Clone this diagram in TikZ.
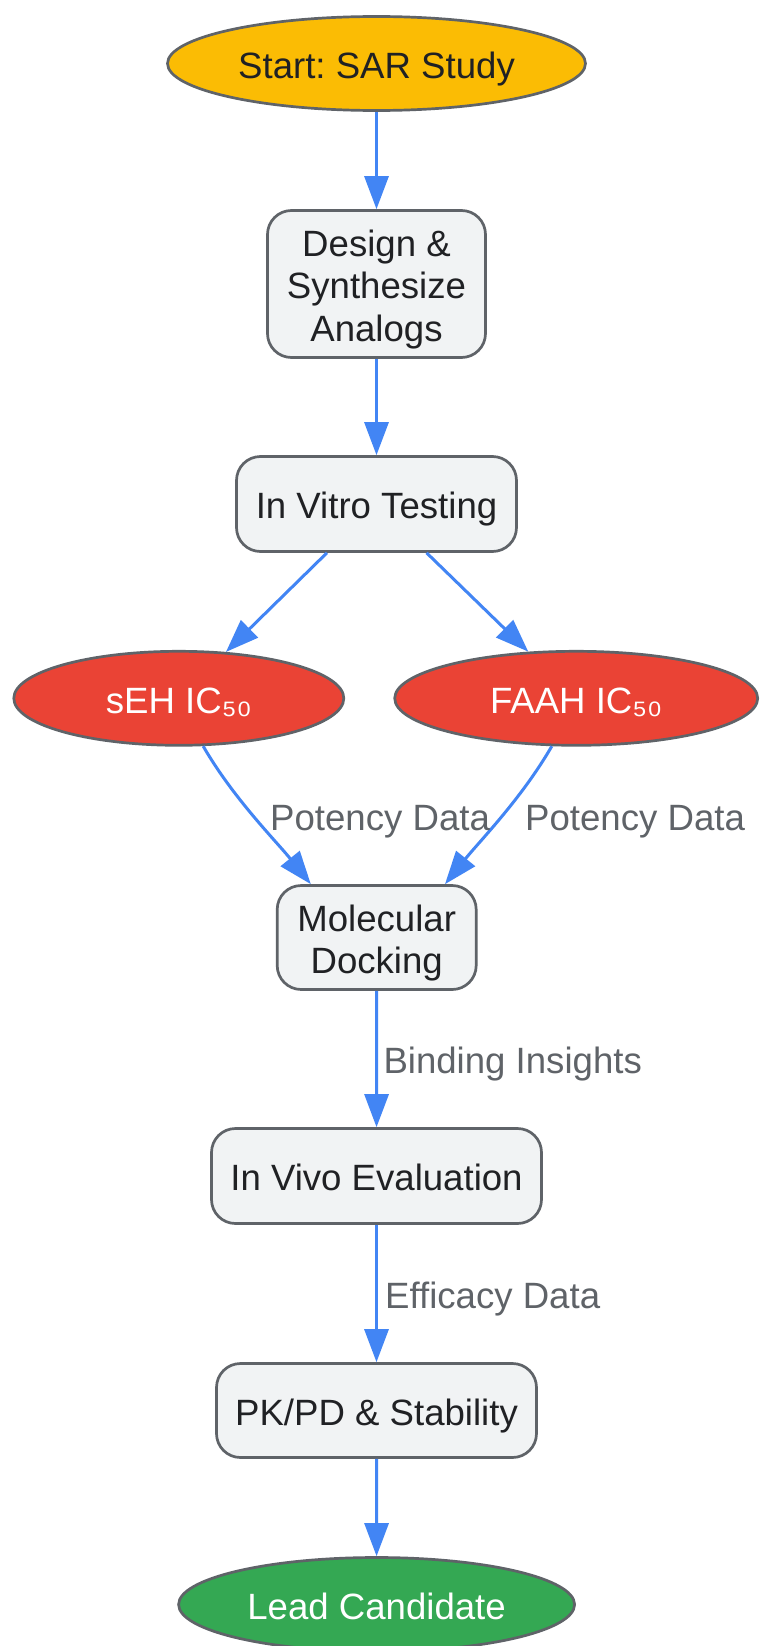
\documentclass[tikz,border=0pt]{standalone}
\usepackage{fontspec}
\setmainfont{Liberation Sans}
\frenchspacing
\usetikzlibrary{shapes.geometric,arrows.meta}
\definecolor{yel}{HTML}{FBBC04}
\definecolor{redf}{HTML}{EA4335}
\definecolor{grn}{HTML}{34A853}
\definecolor{blu}{HTML}{4285F4}
\definecolor{boxf}{HTML}{F1F3F4}
\definecolor{bord}{HTML}{5F6368}
\definecolor{txt}{HTML}{202124}
\definecolor{lbl}{HTML}{5F6368}
\newcommand\sL{\rule[-7.7pt]{0pt}{45.3pt}}
\newcommand\nodefont{\fontsize{36.6}{42.3}\selectfont\setlength{\lineskiplimit}{-100pt}\relax}
\begin{document}
\begin{tikzpicture}[x=1pt,y=-1pt,
  base/.style={draw=bord, line width=2.7pt, inner sep=0pt, align=center,
    font=\nodefont},
  stepbox/.style={base, rectangle, rounded corners=24pt, fill=boxf, text=txt},
  oval/.style={base, ellipse},
  arr/.style={draw=blu, line width=3pt, -{Triangle[length=33pt,width=24pt]}},
  lab/.style={text=lbl, font=\nodefont, inner sep=0pt, anchor=base west}]
\useasboundingbox (0,0) rectangle (761,1646);
\fill[white] (0,0) rectangle (761,1646);

\node[oval, fill=yel, text=txt, minimum width=418pt, minimum height=94pt] (start) at (376.5,63.5) {\sL Start: SAR Study};
\node[stepbox, minimum width=218pt, minimum height=147pt] (design) at (376.5,284) {\sL Design \&\\\sL Synthesize\\\sL Analogs};
\node[stepbox, minimum width=280pt, minimum height=95pt] (vitro) at (376.5,504) {\sL In Vitro Testing};
\node[oval, fill=redf, text=white, minimum width=330pt, minimum height=94pt] (seh) at (178.8,698.3) {\sL sEH IC₅₀};
\node[oval, fill=redf, text=white, minimum width=363pt, minimum height=94pt] (faah) at (576.2,698.3) {\sL FAAH IC₅₀};
\node[stepbox, minimum width=199pt, minimum height=104pt] (dock) at (376.7,937.5) {\sL Molecular\\\sL Docking};
\node[stepbox, minimum width=330pt, minimum height=95pt] (vivo) at (376.5,1176) {\sL In Vivo Evaluation};
\node[stepbox, minimum width=320pt, minimum height=94pt] (pkpd) at (376.5,1410.5) {\sL PK/PD \& Stability};
\node[oval, fill=grn, text=white, minimum width=396pt, minimum height=94pt] (lead) at (376.6,1604.5) {\sL Lead Candidate};

\draw[arr] (start) -- (design);
\draw[arr] (design) -- (vitro);
\draw[arr] (vitro) -- (seh);
\draw[arr] (vitro) -- (faah);
\draw[arr] (seh.-63.4) .. controls +(30,52) and +(-35,-43.4) .. (dock.141.5);
\draw[arr] (faah.-117.2) .. controls +(-30,52) and +(35,-43.4) .. (dock.38.5);
\draw[arr] (dock) -- (vivo);
\draw[arr] (vivo) -- (pkpd);
\draw[arr] (pkpd) -- (lead);

\node[lab] (l1) at (270,830) {Potency Data};
\node[lab] (l2) at (525,830) {Potency Data};
\node[lab] (l3) at (383.3,1073.3) {Binding Insights};
\node[lab] (l4) at (385,1308.3) {Efficacy Data};
\end{tikzpicture}
\end{document}
